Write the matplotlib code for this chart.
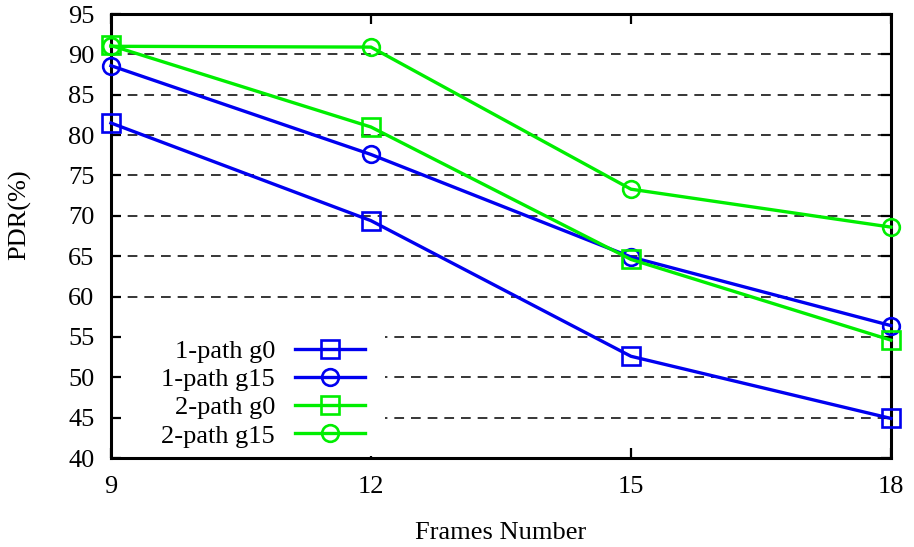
import matplotlib
matplotlib.use("Agg")
import matplotlib.pyplot as plt
from matplotlib.patches import Rectangle

# Frames number on the x axis, packet delivery ratio (%) on the y axis
frames = [9, 12, 15, 18]
path1_g0 = [81.5, 69.4, 52.6, 44.9]
path1_g15 = [88.6, 77.6, 64.9, 56.4]
path2_g0 = [91.1, 81.0, 64.6, 54.6]
path2_g15 = [91.0, 90.9, 73.3, 68.6]

series_labels = ["1-path g0", "1-path g15", "2-path g0", "2-path g15"]
x_ticks = [9, 12, 15, 18]
y_ticks = list(range(40, 96, 5))

plt.rcParams["font.family"] = ["Liberation Serif", "DejaVu Serif"]
plt.rcParams["lines.scale_dashes"] = False

blue = "#0000f0"
green = "#00ee00"
fs = 19

fig = plt.figure(figsize=(9.14, 5.47), dpi=100)
ax = fig.add_axes([0.1214, 0.1627, 0.8534, 0.8117])

styles = [
    (path1_g0, blue, "s"),
    (path1_g15, blue, "o"),
    (path2_g0, green, "s"),
    (path2_g15, green, "o"),
]
for (vals, col, mk), lab in zip(styles, series_labels):
    ax.plot(frames, vals, color=col, lw=2.4, marker=mk,
            markersize=12 if mk == "o" else 12.5,
            markerfacecolor="none", markeredgecolor=col, markeredgewidth=1.9,
            label=lab, zorder=3, clip_on=False)

ax.set_xlim(9, 18)
ax.set_ylim(40, 95)
ax.set_xticks(x_ticks)
ax.set_yticks(y_ticks)
ax.yaxis.grid(True, color="black", lw=1.1, dashes=(7, 5))
ax.set_axisbelow(True)

# white key area hides the dashed grid behind the legend
ax.add_patch(Rectangle((0.013, 0.004), 0.338, 0.28, transform=ax.transAxes,
                       facecolor="white", edgecolor="none", zorder=1))

ax.tick_params(direction="in", length=7, width=1.6, labelsize=fs,
               top=True, right=True)
ax.tick_params(axis="x", pad=13)
ax.tick_params(axis="y", pad=12)
for sp in ax.spines.values():
    sp.set_linewidth(2.2)

ax.set_xlabel("Frames Number", fontsize=fs, labelpad=17)
ax.set_ylabel("PDR(%)", fontsize=fs)
ax.yaxis.set_label_coords(-0.102, 0.547)

leg = ax.legend(loc="lower right", bbox_to_anchor=(0.349, -0.018),
                markerfirst=False, handlelength=2.65, fontsize=fs,
                labelspacing=0.18, handletextpad=0.75, borderpad=0.2,
                frameon=False)

fig.savefig("out.png", dpi=100)
